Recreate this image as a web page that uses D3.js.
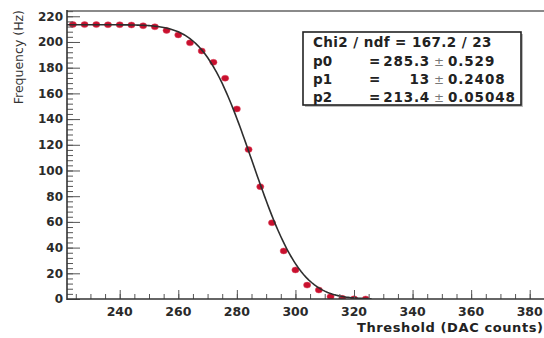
<!DOCTYPE html>
<html>
<head>
<meta charset="utf-8">
<script src="https://cdn.jsdelivr.net/npm/d3@7/dist/d3.min.js"></script>
<style>
  html, body { margin: 0; padding: 0; background: #fff; }
  svg { display: block; }
</style>
</head>
<body>
<svg id="chart" width="544" height="338"></svg>
<script>
// ---- data ----
const thresholds = [224, 228, 232, 236, 240, 244, 248, 252, 256, 260, 264, 268, 272, 276, 280, 284, 288, 292, 296, 300, 304, 308, 312, 316, 320, 324];
const frequencies = [213.6, 213.5, 213.5, 213.4, 213.4, 213.2, 212.6, 211.8, 209.0, 205.5, 199.3, 193.0, 184.2, 171.8, 147.9, 116.3, 87.4, 59.3, 37.4, 22.6, 10.8, 7.0, 1.8, 0.5, 0.1, 0.0];
const xTickValues = [240, 260, 280, 300, 320, 340, 360, 380];
const yTickValues = [0, 20, 40, 60, 80, 100, 120, 140, 160, 180, 200, 220];
const fitParams = { p0: 285.3, p1: 13, p2: 213.4 };
const statsLabels = ["p0", "p1", "p2"];
const statsValues = ["285.3", "13", "213.4"];
const statsErrors = ["0.529", "0.2408", "0.05048"];
const chiText = "Chi2 / ndf = 167.2 / 23";
const xTitle = "Threshold (DAC counts)";
const yTitle = "Frequency (Hz)";

(function () {
// ---- layout ----
const svg = d3.select("#chart");
const mLeft = 67, mRight = 559, mTop = 11, mBottom = 299;
const x = d3.scaleLinear().domain([222, 390]).range([mLeft, mRight]);
const y = d3.scaleLinear().domain([0, 224.1]).range([mBottom, mTop]);

const FONT = "'DejaVu Sans', Verdana, sans-serif";

svg.append("defs").append("clipPath").attr("id", "plotclip")
  .append("rect").attr("x", mLeft).attr("y", mTop).attr("width", mRight - mLeft).attr("height", mBottom - mTop);

// frame top line
svg.append("line").attr("x1", mLeft).attr("x2", mRight).attr("y1", mTop).attr("y2", mTop)
  .attr("stroke", "#8a8a8a").attr("stroke-width", 2);

// fit function (erfc model with displayed parameters)
function erfc(v) {
  const z = Math.abs(v);
  const t = 1 / (1 + 0.5 * z);
  const r = t * Math.exp(-z * z - 1.26551223 + t * (1.00002368 + t * (0.37409196 + t * (0.09678418 +
    t * (-0.18628806 + t * (0.27886807 + t * (-1.13520398 + t * (1.48851587 +
    t * (-0.82215223 + t * 0.17087277)))))))));
  return v >= 0 ? r : 2 - r;
}
const fitFn = xv => fitParams.p2 / 2 * erfc((xv - fitParams.p0) / (Math.SQRT2 * fitParams.p1));
const fitX = d3.range(222, 326.01, 0.5);
const line = d3.line().x(d => x(d)).y(d => y(fitFn(d)));

const plot = svg.append("g").attr("clip-path", "url(#plotclip)");
plot.selectAll("ellipse.pt").data(thresholds).enter().append("ellipse")
  .attr("class", "pt")
  .attr("cx", (d) => x(d))
  .attr("cy", (d, i) => y(frequencies[i]))
  .attr("rx", 3.6).attr("ry", 3.0)
  .attr("fill", "#c8102e")
  .attr("stroke", "#e04a60").attr("stroke-width", 0.8).attr("stroke-opacity", 0.6);

plot.append("path").datum(fitX).attr("d", line)
  .attr("fill", "none").attr("stroke", "#2e2e2e").attr("stroke-width", 1.6);

// ---- axes ----
const yAxis = d3.axisRight(y).tickValues(yTickValues).tickSize(13).tickFormat("");
const yMinor = d3.axisRight(y).tickValues(d3.range(0, 224.1, 4)).tickSize(6).tickFormat("");
const gy = svg.append("g").attr("transform", `translate(${mLeft},0)`);
gy.append("g").call(yMinor);
gy.append("g").call(yAxis);
gy.selectAll(".domain").remove();
gy.selectAll("line").attr("stroke", "#555").attr("stroke-width", 1);
svg.append("line").attr("x1", mLeft).attr("x2", mLeft).attr("y1", mTop - 1).attr("y2", mBottom + 1)
  .attr("stroke", "#333").attr("stroke-width", 1.6);

svg.append("g").selectAll("text").data(yTickValues).enter().append("text")
  .attr("x", mLeft - 4).attr("y", d => y(d)).attr("dy", "0.36em")
  .attr("text-anchor", "end")
  .attr("font-family", FONT).attr("font-weight", "bold").attr("font-size", 12)
  .attr("fill", "#2a2a2a")
  .text(d => d);

const xAxis = d3.axisTop(x).tickValues(xTickValues).tickSize(9).tickFormat("");
const xMinor = d3.axisTop(x).tickValues(d3.range(225, 390, 5)).tickSize(5).tickFormat("");
const gx = svg.append("g").attr("transform", `translate(0,${mBottom})`);
gx.append("g").call(xMinor);
gx.append("g").call(xAxis);
gx.selectAll(".domain").remove();
gx.selectAll("line").attr("stroke", "#555").attr("stroke-width", 1);
svg.append("line").attr("x1", mLeft).attr("x2", mRight).attr("y1", mBottom).attr("y2", mBottom)
  .attr("stroke", "#333").attr("stroke-width", 1.6);

svg.append("g").selectAll("text").data(xTickValues).enter().append("text")
  .attr("x", d => x(d)).attr("y", mBottom + 17)
  .attr("text-anchor", "middle")
  .attr("font-family", FONT).attr("font-weight", "bold").attr("font-size", 12.5)
  .attr("fill", "#2a2a2a")
  .text(d => d);

svg.append("text")
  .attr("x", 357).attr("y", 332)
  .attr("font-family", FONT).attr("font-weight", "bold").attr("font-size", 13)
  .attr("letter-spacing", 0.6)
  .attr("fill", "#222")
  .text(xTitle);

svg.append("text")
  .attr("transform", "translate(23,10) rotate(-90)")
  .attr("text-anchor", "end")
  .attr("font-family", FONT).attr("font-size", 12.5)
  .attr("fill", "#333")
  .text(yTitle);

// ---- stats box ----
const bx = 303, by = 32, bw = 218, bh = 73;
svg.append("rect").attr("x", bx + 2).attr("y", by + 2).attr("width", bw).attr("height", bh)
  .attr("fill", "#bbb");
svg.append("rect").attr("x", bx).attr("y", by).attr("width", bw).attr("height", bh)
  .attr("fill", "#fff").attr("stroke", "#222").attr("stroke-width", 1.6);

const stats = svg.append("g")
  .attr("font-family", FONT).attr("font-weight", "bold").attr("font-size", 13.5)
  .attr("fill", "#222");
stats.append("text").attr("x", 313).attr("y", 47).attr("letter-spacing", 0.4).text(chiText);
statsLabels.forEach((lab, i) => {
  const yy = 65.5 + i * 18.2;
  stats.append("text").attr("x", 313).attr("y", yy).text(lab);
  stats.append("text").attr("x", 369).attr("y", yy).text("=");
  stats.append("text").attr("x", 430).attr("y", yy).attr("text-anchor", "end")
    .attr("letter-spacing", 0.8).text(statsValues[i]);
  stats.append("text").attr("x", 439).attr("y", yy).attr("text-anchor", "middle")
    .attr("font-weight", "normal").attr("fill", "#777").attr("font-size", 12).text("±");
  stats.append("text").attr("x", 448).attr("y", yy).attr("letter-spacing", 0.9).text(statsErrors[i]);
});
})();
</script>
</body>
</html>
